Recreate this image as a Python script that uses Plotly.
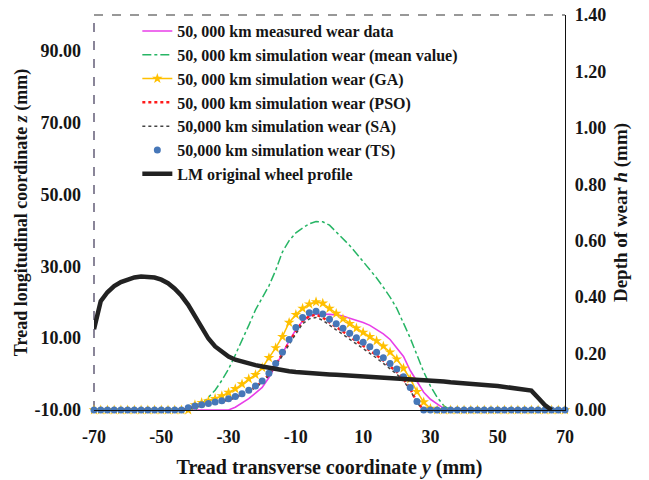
import plotly.graph_objects as go

# Transverse tread coordinate y (mm), sampled every 2 mm
y_pos = [-70, -68, -66, -64, -62, -60, -58, -56, -54, -52, -50, -48, -46, -44, -42, -40,
         -38, -36, -34, -32, -30, -28, -26, -24, -22, -20, -18, -16, -14, -12, -10, -8,
         -6, -4, -2, 0, 2, 4, 6, 8, 10, 12, 14, 16, 18, 20, 22, 24, 26, 28, 30, 32, 34,
         36, 38, 40, 42, 44, 46, 48, 50, 52, 54, 56, 58, 60, 62, 64, 66, 68, 70]

# Depth of wear h (mm) after 50,000 km
measured = [0, 0, 0, 0, 0, 0, 0, 0, 0, 0, 0, 0, 0, 0, 0, 0, 0, 0, 0, 0, 0,
            0.01, 0.025, 0.04, 0.06, 0.08, 0.115, 0.155, 0.2, 0.245, 0.285, 0.315,
            0.332, 0.34, 0.34, 0.339, 0.337, 0.333, 0.325, 0.318, 0.31, 0.3, 0.285,
            0.27, 0.25, 0.222, 0.19, 0.14, 0.1, 0.063, 0.038, 0.02, 0.005,
            0, 0, 0, 0, 0, 0, 0, 0, 0, 0, 0, 0, 0, 0, 0, 0, 0, 0]

sim_mean = [0, 0, 0, 0, 0, 0, 0, 0, 0, 0, 0, 0, 0, 0, 0, 0,
            0.02, 0.045, 0.07, 0.105, 0.145, 0.195, 0.245, 0.3, 0.355, 0.395, 0.44,
            0.495, 0.56, 0.6, 0.628, 0.645, 0.66, 0.668, 0.667, 0.655, 0.632, 0.607,
            0.583, 0.555, 0.527, 0.498, 0.468, 0.435, 0.4, 0.36, 0.31, 0.255, 0.195,
            0.135, 0.085, 0.045, 0.015,
            0, 0, 0, 0, 0, 0, 0, 0, 0, 0, 0, 0, 0, 0, 0, 0, 0, 0]

sim_ga = [0, 0, 0, 0, 0, 0, 0, 0, 0, 0, 0, 0, 0, 0, 0,
          0.018, 0.026, 0.032, 0.04, 0.05, 0.062, 0.075, 0.092, 0.11, 0.125, 0.15,
          0.185, 0.22, 0.26, 0.31, 0.338, 0.36, 0.375, 0.383, 0.378, 0.36, 0.342,
          0.323, 0.306, 0.29, 0.275, 0.26, 0.245, 0.226, 0.205, 0.18, 0.148, 0.11,
          0.065, 0.028, 0.005,
          0, 0, 0, 0, 0, 0, 0, 0, 0, 0, 0, 0, 0, 0, 0, 0, 0, 0, 0, 0]

sim_pso = [0, 0, 0, 0, 0, 0, 0, 0, 0, 0, 0, 0, 0, 0,
           0.006, 0.012, 0.017, 0.021, 0.026, 0.031, 0.037, 0.045, 0.055, 0.067,
           0.082, 0.1, 0.126, 0.16, 0.198, 0.24, 0.28, 0.315, 0.333, 0.338, 0.328,
           0.31, 0.294, 0.278, 0.26, 0.244, 0.228, 0.212, 0.194, 0.175, 0.155, 0.135,
           0.11, 0.075, 0.028,
           0, 0, 0, 0, 0, 0, 0, 0, 0, 0, 0, 0, 0, 0, 0, 0, 0, 0, 0, 0, 0, 0]

sim_sa = [0, 0, 0, 0, 0, 0, 0, 0, 0, 0, 0, 0, 0, 0,
          0.005, 0.01, 0.015, 0.019, 0.024, 0.029, 0.035, 0.043, 0.053, 0.065,
          0.08, 0.097, 0.122, 0.155, 0.192, 0.233, 0.272, 0.306, 0.323, 0.328, 0.318,
          0.3, 0.284, 0.268, 0.25, 0.234, 0.218, 0.202, 0.184, 0.165, 0.146, 0.127,
          0.103, 0.07, 0.026,
          0, 0, 0, 0, 0, 0, 0, 0, 0, 0, 0, 0, 0, 0, 0, 0, 0, 0, 0, 0, 0, 0]

sim_ts = [0, 0, 0, 0, 0, 0, 0, 0, 0, 0, 0, 0, 0, 0,
          0.008, 0.014, 0.019, 0.023, 0.028, 0.033, 0.04, 0.048, 0.058, 0.07,
          0.085, 0.103, 0.13, 0.165, 0.205, 0.25, 0.292, 0.328, 0.345, 0.35, 0.34,
          0.322, 0.306, 0.29, 0.272, 0.256, 0.24, 0.224, 0.205, 0.185, 0.165, 0.145,
          0.118, 0.08, 0.03,
          0, 0, 0, 0, 0, 0, 0, 0, 0, 0, 0, 0, 0, 0, 0, 0, 0, 0, 0, 0, 0, 0]

# LM original wheel profile, longitudinal coordinate z (mm)
lm_profile = [12.5, 20.3, 22.8, 24.5, 25.6, 26.4, 26.9, 27.2, 27.2, 26.9, 26.3, 25.3,
              23.8, 21.8, 19.3, 16.3, 12.8, 9.9, 7.7, 6.1, 4.9, 4.0, 3.4, 2.9, 2.5,
              2.1, 1.7, 1.3, 1.0, 0.8, 0.6, 0.4, 0.3, 0.2, 0.0, -0.1, -0.2, -0.3,
              -0.4, -0.5, -0.6, -0.75, -0.9, -1.05, -1.15, -1.25, -1.35, -1.45, -1.5,
              -1.6, -1.7, -1.85, -2.05, -2.25, -2.45, -2.6, -2.75, -2.9, -3.0, -3.15,
              -3.3, -3.5, -3.75, -4.0, -4.25, -4.6, -6.6, -8.6, -10.0, None, None]

x_ticks = [-70, -50, -30, -10, 10, 30, 50, 70]
x_labels = ["-70", "-50", "-30", "-10", "10", "30", "50", "70"]
z_ticks = [-10, 10, 30, 50, 70, 90]
z_labels = ["-10.00", "10.00", "30.00", "50.00", "70.00", "90.00"]
h_ticks = [0, 0.2, 0.4, 0.6, 0.8, 1.0, 1.2, 1.4]
h_labels = ["0.00", "0.20", "0.40", "0.60", "0.80", "1.00", "1.20", "1.40"]

FONT = "Liberation Serif, Times New Roman, serif"
INK = "#151515"
PLOT_TOP = 0.9826  # plot frame top within the paper area (leaves room above for the legend)

fig = go.Figure()

fig.add_trace(go.Scatter(
    x=y_pos, y=measured, name="50, 000 km measured wear data", mode="lines",
    line=dict(color="#e83ee8", width=1.6), yaxis="y", cliponaxis=False))
fig.add_trace(go.Scatter(
    x=y_pos, y=sim_mean, name="50, 000 km simulation wear (mean value)", mode="lines",
    line=dict(color="#27b565", width=1.5, dash="dashdot"), yaxis="y", cliponaxis=False))
fig.add_trace(go.Scatter(
    x=y_pos, y=sim_ga, name="50, 000 km simulation wear (GA)", mode="lines+markers",
    line=dict(color="#ffc000", width=1.5),
    marker=dict(symbol="star", size=8, color="#ffc000"), yaxis="y", cliponaxis=False))
fig.add_trace(go.Scatter(
    x=y_pos, y=sim_pso, name="50, 000 km simulation wear (PSO)", mode="lines",
    line=dict(color="#ff1a1a", width=2.5, dash="dot"), yaxis="y", cliponaxis=False))
fig.add_trace(go.Scatter(
    x=y_pos, y=sim_sa, name="50,000 km simulation wear (SA)", mode="lines",
    line=dict(color="#444444", width=1.5, dash="dot"), yaxis="y", cliponaxis=False))
fig.add_trace(go.Scatter(
    x=y_pos, y=sim_ts, name="50,000 km simulation wear (TS)", mode="markers",
    marker=dict(symbol="circle", size=7, color="#4677b8"), yaxis="y", cliponaxis=False))
fig.add_trace(go.Scatter(
    x=y_pos, y=lm_profile, name="LM original wheel profile", mode="lines",
    line=dict(color="#222222", width=4.5), yaxis="y2", connectgaps=False, cliponaxis=False))

fig.update_layout(
    width=649, height=480,
    margin=dict(l=94, r=84, t=8, b=70),
    paper_bgcolor="white", plot_bgcolor="white",
    font=dict(family=FONT, size=16, color=INK, weight="bold"),
    showlegend=True,
    legend=dict(x=0.092, y=0.985, xanchor="left", yanchor="top",
                bgcolor="rgba(0,0,0,0)", borderwidth=0,
                font=dict(family=FONT, size=16, color=INK, weight="bold"),
                tracegroupgap=0),
    xaxis=dict(range=[-70, 70], tickvals=x_ticks, ticktext=x_labels, automargin=False,
               showgrid=False, zeroline=False, showline=True, linecolor="#111",
               linewidth=1.2, ticks="", ticklabelstandoff=10,
               tickfont=dict(family=FONT, size=18, color=INK, weight="bold"),
               title=dict(text="Tread transverse coordinate <i>y</i> (mm)",
                          font=dict(family=FONT, size=20, color=INK, weight="bold"),
                          standoff=14)),
    yaxis=dict(range=[0, 1.4], tickvals=h_ticks, ticktext=h_labels, side="right",
               domain=[0, PLOT_TOP], automargin=False,
               showgrid=False, zeroline=False, showline=True, linecolor="#111",
               linewidth=1.2, ticks="", ticklabelstandoff=5,
               tickfont=dict(family=FONT, size=18, color=INK, weight="bold"),
               title=dict(text="Depth of wear <i>h</i> (mm)",
                          font=dict(family=FONT, size=19, color=INK, weight="bold"),
                          standoff=8)),
    yaxis2=dict(range=[-10, 100], tickvals=z_ticks, ticktext=z_labels, side="left",
                overlaying="y", showgrid=False, zeroline=False, showline=False, ticks="",
                automargin=False, ticklabelstandoff=12,
                tickfont=dict(family=FONT, size=18, color=INK, weight="bold"),
                title=dict(text="Tread longitudinal coordinate <i>z</i> (mm)",
                           font=dict(family=FONT, size=18, color=INK, weight="bold"),
                           standoff=2)),
    shapes=[
        dict(type="line", xref="paper", yref="paper", x0=0, x1=0, y0=0, y1=PLOT_TOP,
             line=dict(color="#3d3555", width=1.2, dash="dash"), layer="below"),
        dict(type="line", xref="paper", yref="paper", x0=0, x1=1, y0=PLOT_TOP, y1=PLOT_TOP,
             line=dict(color="#333333", width=1.2, dash="dash"), layer="below"),
    ],
)

fig.write_html("out.html")
